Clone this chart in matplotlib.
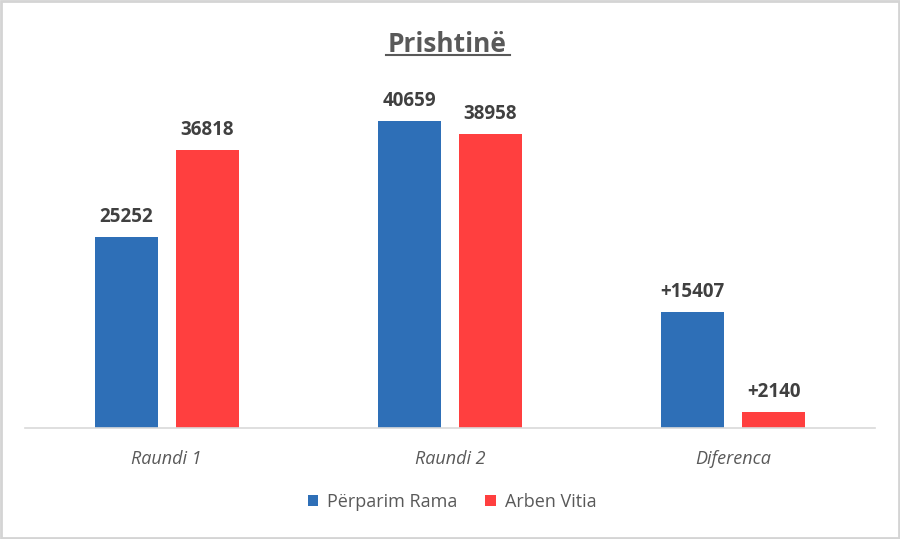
import matplotlib.pyplot as plt
import numpy as np
from matplotlib.patches import Rectangle

categories = ['Raundi 1', 'Raundi 2', 'Diferenca']
rama = [25252, 40659, 15407]
vitia = [36818, 38958, 2140]
rama_labels = ['25252', '40659', '+15407']
vitia_labels = ['36818', '38958', '+2140']
series_names = ['Përparim Rama', 'Arben Vitia']

blue = '#2E6FB7'
red = '#FF3F3F'
grey_text = '#595959'

plt.rcParams['font.family'] = ['Open Sans', 'DejaVu Sans']

fig = plt.figure(figsize=(9, 5.39), dpi=100)
ax = fig.add_axes([25 / 900, 111 / 539, 850 / 900, 340 / 539])

x = np.arange(len(categories))
w = 0.223
off = 0.143
b1 = ax.bar(x - off, rama, w, color=blue, label=series_names[0])
b2 = ax.bar(x + off, vitia, w, color=red, label=series_names[1])

for bars, labels in [(b1, rama_labels), (b2, vitia_labels)]:
    for b, lab in zip(bars, labels):
        ax.annotate(lab, (b.get_x() + b.get_width() / 2, b.get_height()),
                    xytext=(0, 7), textcoords='offset points',
                    ha='center', va='bottom', fontsize=13.5,
                    fontweight='bold', color='#404040')

ax.set_xlim(-0.5, 2.5)
ax.set_ylim(0, 45000)
ax.set_xticks(x)
ax.set_xticklabels(categories, fontsize=13, style='italic', color=grey_text)
ax.tick_params(axis='x', length=0, pad=16)
ax.set_yticks([])
for s in ['top', 'right', 'left']:
    ax.spines[s].set_visible(False)
ax.spines['bottom'].set_color('#D9D9D9')
ax.spines['bottom'].set_linewidth(1.2)

fig.text(447 / 900, 1 - 44 / 539, 'Prishtinë', ha='center', va='center',
         fontsize=19, fontweight='bold', color=grey_text)
fig.add_artist(plt.Line2D([386 / 900, 510 / 900], [1 - 55 / 539, 1 - 55 / 539],
                          color=grey_text, lw=1.5))

leg = fig.legend(handles=[b1, b2], loc='center', bbox_to_anchor=(452 / 900, 1 - 502 / 539),
                 ncol=2, frameon=False, fontsize=13, handlelength=0.6,
                 handleheight=0.6, handletextpad=0.5, columnspacing=1.5)
for t in leg.get_texts():
    t.set_color(grey_text)

fig.add_artist(Rectangle((0.001, 0.001), 0.998, 0.998, transform=fig.transFigure,
                         fill=False, edgecolor='#D4D4D4', lw=2))

fig.savefig('out.png', dpi=100)
